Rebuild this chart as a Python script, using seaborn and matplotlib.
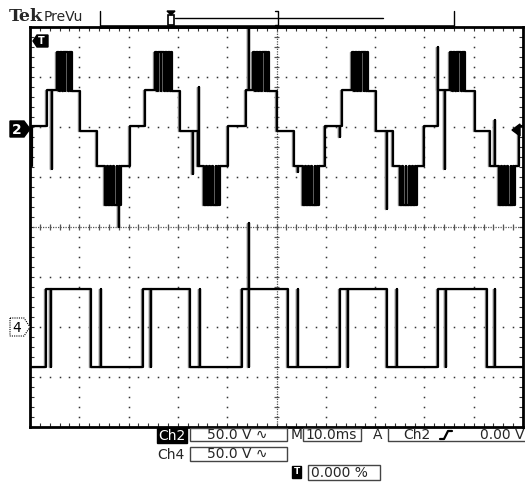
import numpy as np
import pandas as pd
import matplotlib
matplotlib.use("Agg")
import matplotlib.pyplot as plt
from matplotlib.patches import Polygon, Rectangle
import seaborn as sns

# ---- acquisition settings ----
VOLTS_PER_DIV = 50.0
MS_PER_DIV = 10.0
CH2_OFFSET_DIV = 2.0
CH4_OFFSET_DIV = -2.0
PERSIST_SHIFT_MS = -0.45   # earlier acquisition left on screen in grey

# ---- channel 2: multilevel inverter output (volts) ----
ch2_start_v = -39
ch2_step_ms = [0.41, 3.45, 10.14, 13.59, 20.28, 23.33, 30.43, 34.08, 40.16, 43.81,
               50.10, 53.55, 59.84, 63.29, 70.18, 73.63, 79.92, 82.76, 90.26, 93.31, 99.19]
ch2_step_v = [1, 37, -4, -39, 1, 37, -4, -39, 1, 37,
              -4, -39, 1, 37, -4, -39, 1, 37, -4, -39, 1]
ch2_pos_burst_ms = [(5.48, 8.52), (25.36, 28.80), (45.23, 48.48), (65.31, 68.56), (85.19, 88.24)]
ch2_neg_burst_ms = [(15.21, 18.46), (35.29, 38.54), (55.38, 58.62), (75.05, 78.50), (95.13, 98.38)]
ch2_pos_base_v, ch2_pos_peak_v = 36, 75
ch2_neg_base_v, ch2_neg_peak_v = -39, -78
burst_switch_frac = [0.0, 0.12, 0.18, 0.33, 0.38, 0.50, 0.56, 0.72, 0.78, 0.90, 0.95, 1.0]
ch2_spike_ms = [4.46, 18.05, 33.06, 34.28, 44.42, 54.36, 62.88, 72.41, 82.76, 84.18, 94.32]
ch2_spike_v = [-42, -100, -47, 40, 140, -45, -10, -82, 80, -42, 7]

# ---- channel 4: gate / reference square wave (volts) ----
ch4_low_v, ch4_high_v = -40, 38
ch4_rise_ms = [3.25, 22.92, 43.00, 62.88, 82.76]
ch4_fall_ms = [12.37, 32.45, 52.33, 72.41, 92.70]
ch4_spike_ms = [4.26, 14.40, 24.54, 34.48, 44.42, 44.42, 54.36, 64.50, 74.44, 84.38, 94.32]
ch4_spike_v = [-40, 38, -40, 38, -40, 104, 38, -40, 38, -40, 38]


def build_trace(start_v, steps, spikes):
    """Turn level changes and glitches into a polyline with vertical edges."""
    ev = [(t, 0, v) for t, v in steps] + [(t, 1, v) for t, v in spikes]
    ev.sort(key=lambda e: (e[0], e[1]))
    ts, vs, cur = [0.0], [start_v], start_v
    for t, kind, v in ev:
        if kind == 0:
            ts += [t, t]
            vs += [cur, v]
            cur = v
        else:
            ts += [t, t, t]
            vs += [cur, v, cur]
    ts.append(100.0)
    vs.append(cur)
    return np.array(ts), np.array(vs, dtype=float)


def burst_steps(bursts, base, peak):
    out = []
    for a, b in bursts:
        for i, f in enumerate(burst_switch_frac):
            out.append((a + f * (b - a), peak if i % 2 == 0 else base))
    return out


ch2_steps = list(zip(ch2_step_ms, ch2_step_v))
ch2_steps += burst_steps(ch2_pos_burst_ms, ch2_pos_base_v, ch2_pos_peak_v)
ch2_steps += burst_steps(ch2_neg_burst_ms, ch2_neg_base_v, ch2_neg_peak_v)
t2, v2 = build_trace(ch2_start_v, ch2_steps, list(zip(ch2_spike_ms, ch2_spike_v)))

ch4_steps = [(t, ch4_high_v) for t in ch4_rise_ms] + [(t, ch4_low_v) for t in ch4_fall_ms]
t4, v4 = build_trace(ch4_low_v, ch4_steps, list(zip(ch4_spike_ms, ch4_spike_v)))

df2 = pd.DataFrame({"t": t2, "div": CH2_OFFSET_DIV + v2 / VOLTS_PER_DIV})
df4 = pd.DataFrame({"t": t4, "div": CH4_OFFSET_DIV + v4 / VOLTS_PER_DIV})

# ---- figure ----
sns.set_style("white")
plt.rcParams["font.family"] = ["DejaVu Sans"]
W, H = 525, 482
fig = plt.figure(figsize=(W / 100, H / 100), dpi=100)
fig.patch.set_facecolor("white")

L, R, T, B = 30, 523, 27, 427
ax = fig.add_axes([L / W, 1 - B / H, (R - L) / W, (B - T) / H])
ax.set_xlim(0, 10 * MS_PER_DIV)
ax.set_ylim(-4, 4)

# graticule: dotted divisions with fifth-division dots
dot_c = "#333333"
sub_y = np.arange(-4, 4.001, 0.2)
sub_x = np.arange(0, 100.001, 2)
for gx in range(10, 100, 10):
    if gx == 50:
        continue
    ax.plot(np.full_like(sub_y, gx), sub_y, ls="none", marker="s", ms=1.1, color=dot_c, mew=0)
for gy in range(-3, 4):
    if gy == 0:
        continue
    ax.plot(sub_x, np.full_like(sub_x, gy), ls="none", marker="s", ms=1.1, color=dot_c, mew=0)

# centre crosshair with minor ticks
ax.axhline(0, color="#555555", lw=0.9, ls=(0, (1, 1)))
ax.axvline(50, color="#555555", lw=0.9, ls=(0, (1, 1)))
ax.vlines(sub_x, -0.06, 0.06, color="#555555", lw=0.9)
ax.hlines(sub_y, 50 - 0.6, 50 + 0.6, color="#555555", lw=0.9)

ax.set_xticks(sub_x)
ax.set_yticks(sub_y)
ax.tick_params(direction="in", length=3, width=0.8, color="#333333",
               top=True, right=True, bottom=True, left=True,
               labelbottom=False, labelleft=False)
for s in ax.spines.values():
    s.set_linewidth(2.0)
    s.set_color("black")

# grey persistence of an earlier sweep, then the live traces on top
for df in (df4, df2):
    ghost = df.assign(t=df["t"] + PERSIST_SHIFT_MS)
    sns.lineplot(data=ghost, x="t", y="div", sort=False, estimator=None,
                 color="#8a8a8a", lw=1.0, ax=ax)
for df in (df4, df2):
    sns.lineplot(data=df, x="t", y="div", sort=False, estimator=None,
                 color="black", lw=1.6, ax=ax)
ax.set_xlim(0, 10 * MS_PER_DIV)
ax.set_xlabel("")
ax.set_ylabel("")

# ---- screen furniture in pixel coordinates ----
ov = fig.add_axes([0, 0, 1, 1], zorder=5)
ov.set_xlim(0, W)
ov.set_ylim(H, 0)
ov.axis("off")
ov.patch.set_alpha(0)

ov.text(9, 21, "Tek", fontsize=12.5, fontweight="bold", family="DejaVu Serif",
        va="baseline", ha="left")
ov.text(44, 21, "PreVu", fontsize=10, va="baseline", ha="left")
ov.plot([100, 100], [11, 27], color="black", lw=1.0)
ov.plot([100, 454], [26.5, 26.5], color="black", lw=2.6, solid_capstyle="butt")
ov.plot([175, 383], [18, 18], color="black", lw=1.0)
ov.plot([454, 454], [11, 27], color="black", lw=1.0)
ov.plot([275, 278, 278, 275], [11, 11, 25, 25], color="black", lw=1.0)
ov.add_patch(Polygon([[167, 11], [175, 11], [171, 15]], closed=True, color="black"))
ov.add_patch(Rectangle((168, 15), 6, 10, fill=False, ec="black", lw=1.2))

# trigger marker inside graticule
ov.add_patch(Polygon([[33, 41], [37, 35], [48, 35], [48, 47], [37, 47]], closed=True,
                     color="black"))
ov.text(41.5, 41.5, "T", color="white", fontsize=7, fontweight="bold",
        ha="center", va="center")

# channel ground markers
ov.add_patch(Polygon([[10, 121], [24, 121], [30, 129], [24, 137], [10, 137]], closed=True,
                     color="black"))
ov.text(17, 129.5, "2", color="white", fontsize=10, fontweight="bold",
        ha="center", va="center")
ov.add_patch(Polygon([[10, 318], [24, 318], [30, 327], [24, 336], [10, 336]], closed=True,
                     fc="white", ec="black", lw=0.8, ls=(0, (1, 1))))
ov.text(17, 327.5, "4", color="black", fontsize=10, ha="center", va="center")

# trigger level arrow on the right
ov.add_patch(Polygon([[512, 130], [520, 124], [520, 136]], closed=True, color="black"))

# ---- readout area ----
fs = 10
box_c = "#444444"
ov.add_patch(Rectangle((157, 428), 30, 15, color="black"))
ov.text(172, 436, "Ch2", color="white", fontsize=fs, ha="center", va="center")
ov.add_patch(Rectangle((190, 428), 97, 13, fill=False, ec=box_c, lw=1))
ov.text(207, 435, "50.0 V \u223f", fontsize=fs, ha="left", va="center")
ov.text(291, 435, "M", fontsize=fs, ha="left", va="center")
ov.add_patch(Rectangle((303, 428), 58, 13, fill=False, ec=box_c, lw=1))
ov.text(305, 435, "10.0ms", fontsize=fs, ha="left", va="center")
ov.text(373, 435, "A", fontsize=fs, ha="left", va="center")
ov.plot([388, 388, 525], [428, 441, 441], color=box_c, lw=1)
ov.text(403, 435, "Ch2", fontsize=fs, ha="left", va="center")
ov.plot([440, 444, 448, 452], [439, 439, 431, 431], color="black", lw=1.6)
ov.text(525, 435, "0.00 V", fontsize=fs, ha="right", va="center")

ov.text(157, 455, "Ch4", fontsize=fs, ha="left", va="center")
ov.add_patch(Rectangle((190, 447), 97, 14, fill=False, ec=box_c, lw=1))
ov.text(207, 454, "50.0 V \u223f", fontsize=fs, ha="left", va="center")

ov.add_patch(Rectangle((292, 466), 9, 12, color="black"))
ov.text(296.5, 472, "T", color="white", fontsize=6.5, fontweight="bold",
        ha="center", va="center")
ov.add_patch(Rectangle((308, 465), 72, 15, fill=False, ec=box_c, lw=1))
ov.text(311, 473, "0.000 %", fontsize=fs, ha="left", va="center")

fig.savefig("out.png", dpi=100, facecolor="white")
